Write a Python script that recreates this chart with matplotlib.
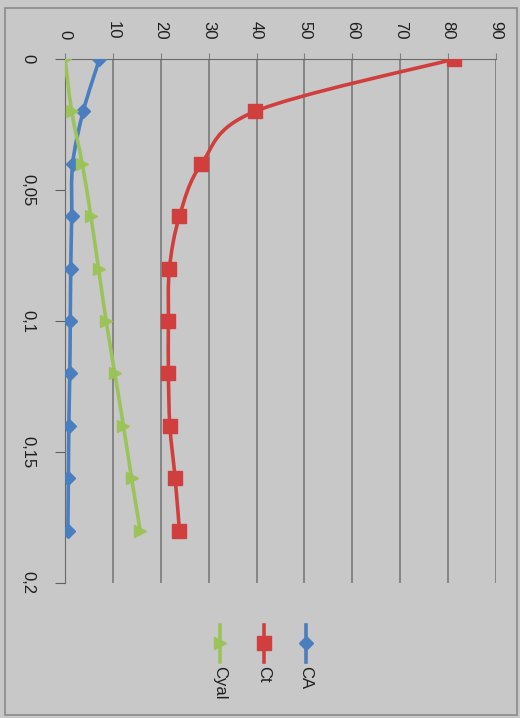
import numpy as np
import matplotlib
matplotlib.use("Agg")
import matplotlib.pyplot as plt
from matplotlib.path import Path
from matplotlib.patches import PathPatch, Rectangle
from matplotlib.lines import Line2D

plt.rcParams["font.family"] = ["Liberation Sans", "DejaVu Sans"]

# concentration profiles vs time
t = [0, 0.02, 0.04, 0.06, 0.08, 0.10, 0.12, 0.14, 0.16, 0.18]
CA = [7.2, 3.8, 1.6, 1.4, 1.2, 1.1, 1.0, 0.8, 0.7, 0.6]
Ct = [81.3, 39.7, 28.5, 23.9, 21.8, 21.6, 21.6, 21.9, 23.0, 23.9]
Cyal = [0.0, 1.4, 3.6, 5.4, 7.0, 8.6, 10.4, 12.2, 13.9, 15.7]

names = ["CA", "Ct", "Cyal"]
colors = ["#4a7ebf", "#d03f3d", "#9cc35a"]
markers = ["D", "s", ">"]
msizes = [7.5, 10, 8.5]
xticks = [0, 0.05, 0.1, 0.15, 0.2]
xticklabels = ["0", "0,05", "0,1", "0,15", "0,2"]

BG = "#c8c8c8"
W, H = 520, 718


def smooth_path(xs, ys):
    # Catmull-Rom style bezier through all points (Excel "smoothed line")
    p = np.column_stack([xs, ys]).astype(float)
    verts = [p[0]]
    codes = [Path.MOVETO]
    n = len(p)
    for i in range(n - 1):
        p0 = p[i - 1] if i > 0 else p[i]
        p3 = p[i + 2] if i + 2 < n else p[i + 1]
        c1 = p[i] + (p[i + 1] - p0) / 6
        c2 = p[i + 1] - (p3 - p[i]) / 6
        verts += [c1, c2, p[i + 1]]
        codes += [Path.CURVE4] * 3
    return Path(verts, codes)


fig = plt.figure(figsize=(W / 100, H / 100), dpi=100, facecolor=BG)
ax = fig.add_axes([65 / W, 1 - 583 / H, (496 - 65) / W, (583 - 59) / H])
ax.set_facecolor(BG)

# chart is laid out sideways: values run left->right along the top,
# time runs downward along the left
for name, vals, c, m, ms in zip(names, [CA, Ct, Cyal], colors, markers, msizes):
    ax.add_patch(PathPatch(smooth_path(vals, t), fill=False, edgecolor=c,
                           lw=2.6, zorder=3, capstyle="round"))
    ax.plot(vals, t, ls="none", marker=m, ms=ms, color=c, mec=c, zorder=4)

ax.set_xlim(0, 90)
ax.set_ylim(0.2, 0)
ax.set_xticks(np.arange(0, 91, 10))
ax.set_xticklabels([str(v) for v in range(0, 91, 10)], rotation=-90,
                   fontsize=12, color="#1e1e1e")
ax.xaxis.tick_top()
ax.tick_params(axis="x", length=4, color="#808080", pad=10)
ax.set_yticks(xticks)
ax.set_yticklabels(xticklabels, rotation=-90, fontsize=12, color="#1e1e1e",
                   va="center")
ax.tick_params(axis="y", length=7, color="#606060", pad=14)
ax.grid(axis="x", color="#727272", lw=1.1)
ax.set_axisbelow(True)
for s in ["right", "bottom"]:
    ax.spines[s].set_visible(False)
ax.spines["top"].set_color("#6a6a6a")
ax.spines["left"].set_color("#6a6a6a")

# chart border
fig.add_artist(Rectangle((5 / W, 1 - 715 / H), 512 / W, 707 / H,
                         transform=fig.transFigure, fill=False,
                         edgecolor="#8a8a8a", lw=1.2))

# legend, drawn sideways
leg_x = {"CA": 306, "Ct": 264, "Cyal": 220}
for name, c, m, ms in zip(names, colors, markers, msizes):
    x = leg_x[name] / W
    fig.add_artist(Line2D([x, x], [1 - 625 / H, 1 - 662 / H], color=c, lw=2.6,
                          transform=fig.transFigure))
    fig.add_artist(Line2D([x], [1 - 643 / H], marker=m, ms=ms, color=c,
                          transform=fig.transFigure))
    fig.text(x, 1 - 666 / H, name, rotation=-90, ha="center", va="top",
             fontsize=12, color="#1e1e1e")

fig.savefig("out.png", dpi=100, facecolor=BG)
